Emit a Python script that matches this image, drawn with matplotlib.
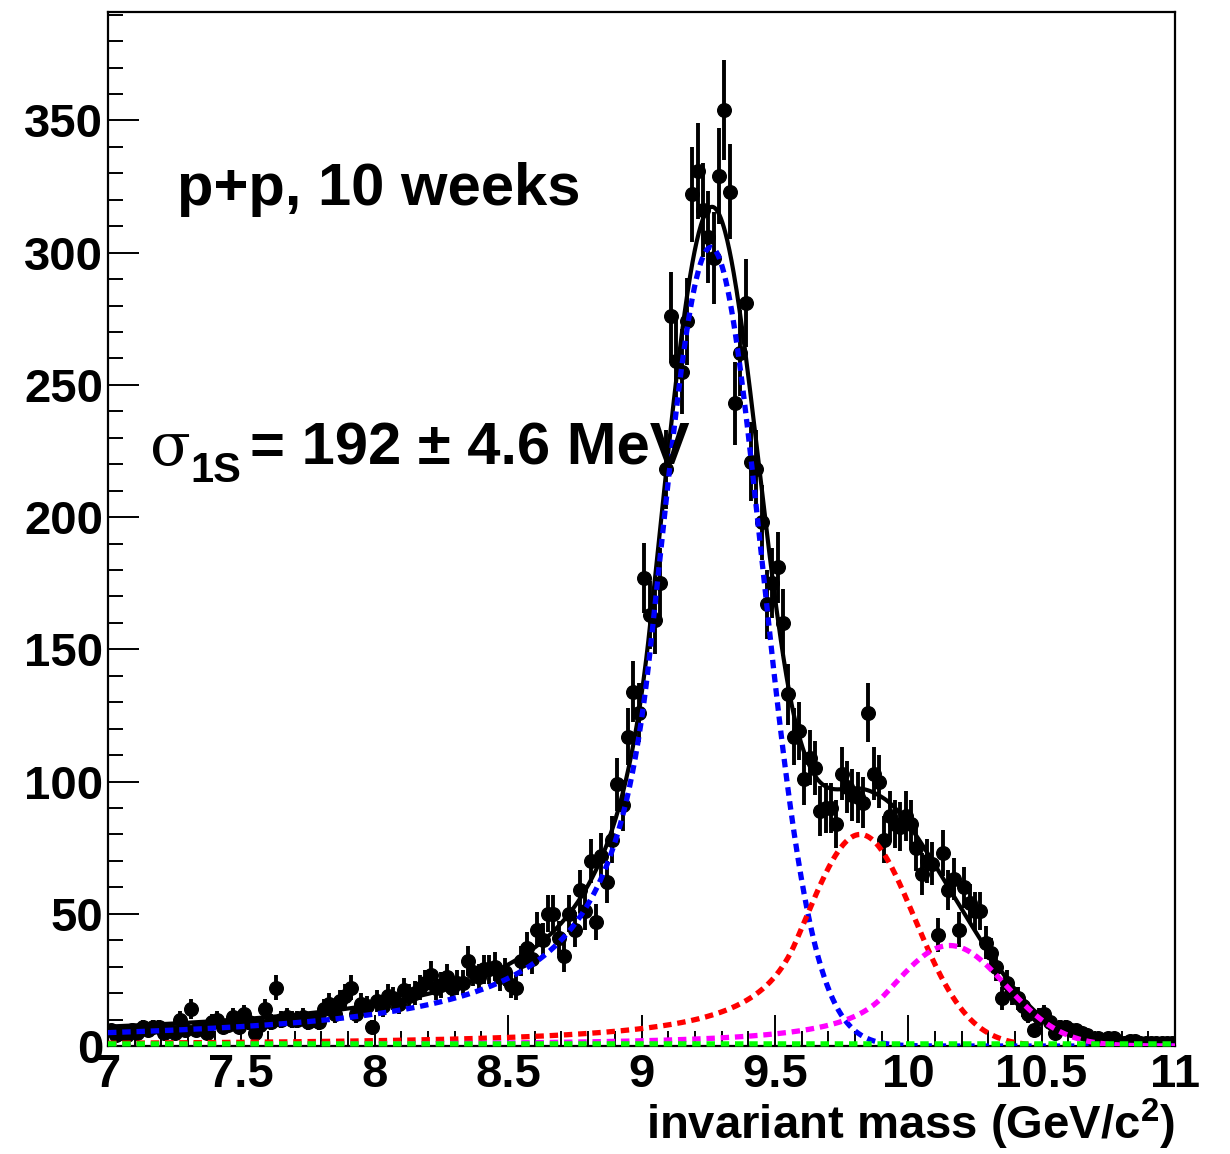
import numpy as np
import matplotlib
matplotlib.use("Agg")
import matplotlib.pyplot as plt
from matplotlib.ticker import MultipleLocator, FuncFormatter

# ---------------- data ----------------
bin_lo, bin_hi, n_bins = 7.0, 11.0, 200
counts = [
    6, 4, 5, 4, 6, 5, 7, 6, 7, 7, 5, 6, 5, 10, 6, 14, 6, 7, 5, 9, 10, 7, 8, 11, 7,
    12, 9, 5, 8, 14, 9, 22, 10, 11, 10, 10,
    11, 9, 10, 9, 14, 16, 12, 17, 19, 22, 12, 16, 15, 7, 17, 15, 19, 18, 16, 21,
    19, 20, 22, 24, 27, 22, 23, 26, 22, 24, 24, 32, 28, 26, 29, 29, 30, 26, 28,
    23, 22, 32, 37, 33,
    44, 40, 50, 50, 41, 34, 50, 44, 59, 51, 70, 47, 72, 62, 78, 99, 91, 117, 134, 126,
    177, 163, 161, 175, 218, 276, 259, 255, 274, 322, 331, 316, 306, 298, 329, 354,
    323, 243, 262, 281,
    221, 218, 198, 167, 175, 181, 160, 133, 117, 119, 101, 109, 105, 89, 90, 90, 84,
    103, 98, 95,
    94, 92, 126, 103, 100, 78, 87, 84, 83, 87, 84, 75, 65, 70, 69, 42, 73, 59, 63, 44,
    60, 54, 51, 51, 39, 35, 30, 18, 24, 20,
    18, 15, 12, 6, 11, 12, 9, 5, 7, 7, 6, 6, 5, 4, 2, 3, 2, 3, 3, 1, 1, 2, 2, 1, 1,
    1, 1, 1, 1, 1,
]

# fit components (crystal-ball shapes): 1S, 2S, 3S
peak_names = ["1S", "2S", "3S"]
peak_mu = [9.26, 9.82, 10.155]
peak_sigma = [0.192, 0.203, 0.210]
peak_amp = [302.0, 80.0, 38.0]
cb_alpha = 1.2
cb_n = 1.5
background_level = 0.8

x_ticks_major = 0.5
y_ticks_major = 50


def crystal_ball(x, amp, mu, sig, alpha, n):
    t = (x - mu) / sig
    A = (n / abs(alpha)) ** n * np.exp(-alpha ** 2 / 2)
    B = n / abs(alpha) - abs(alpha)
    out = np.where(t > -alpha, np.exp(-t ** 2 / 2),
                   A * np.abs(B - t) ** (-n))
    return amp * out


# ---------------- figure ----------------
W, H = 1230, 1154
fig = plt.figure(figsize=(W / 100, H / 100), dpi=100)
L, R, T, B = 108, 1175, 12, 1046
ax = fig.add_axes([L / W, 1 - B / H, (R - L) / W, (B - T) / H])

edges = np.linspace(bin_lo, bin_hi, n_bins + 1)
mass = 0.5 * (edges[:-1] + edges[1:])
y = np.array(counts, dtype=float)
err = np.sqrt(y)

ax.errorbar(mass, y, yerr=err, fmt="o", color="black", ms=9.8,
            elinewidth=2.8, capsize=0, zorder=3)

xs = np.linspace(bin_lo, bin_hi, 1500)
comps = [crystal_ball(xs, a, m, s, cb_alpha, cb_n)
         for a, m, s in zip(peak_amp, peak_mu, peak_sigma)]
bkg = np.full_like(xs, background_level)
total = comps[0] + comps[1] + comps[2] + bkg

ax.plot(xs, total, color="black", lw=3.0, zorder=4)
dash = (0, (1.6, 1.1))
ax.plot(xs, comps[0], color="#0000ff", lw=3.8, ls=dash, zorder=5)
ax.plot(xs, comps[1], color="#ff0000", lw=3.8, ls=dash, zorder=5)
ax.plot(xs, comps[2], color="#ff00ff", lw=3.8, ls=dash, zorder=5)
ax.plot(xs, bkg, color="#00ff00", lw=3.8, ls=dash, zorder=6, clip_on=False)

ax.set_xlim(bin_lo, bin_hi)
ax.set_ylim(0, 391)

for s in ax.spines.values():
    s.set_linewidth(1.6)
    s.set_color("black")

ax.xaxis.set_major_locator(MultipleLocator(x_ticks_major))
ax.xaxis.set_minor_locator(MultipleLocator(0.1))
ax.yaxis.set_major_locator(MultipleLocator(y_ticks_major))
ax.yaxis.set_minor_locator(MultipleLocator(10))
ax.xaxis.set_major_formatter(FuncFormatter(lambda v, p: f"{v:g}"))
ax.yaxis.set_major_formatter(FuncFormatter(lambda v, p: f"{v:g}"))
ax.tick_params(which="both", direction="in", top=False, right=False, width=1.4)
ax.tick_params(which="major", length=22)
ax.tick_params(which="minor", length=11)
ax.tick_params(axis="y", pad=3.5)
ax.tick_params(axis="x", pad=5)
for lab in ax.get_xticklabels() + ax.get_yticklabels():
    lab.set_fontfamily("Liberation Sans")
    lab.set_fontweight("bold")
    lab.set_fontsize(34)

plt.rcParams["mathtext.fontset"] = "custom"
plt.rcParams["mathtext.rm"] = "Liberation Sans:bold"
plt.rcParams["mathtext.bf"] = "Liberation Sans:bold"
plt.rcParams["mathtext.it"] = "Liberation Sans:bold"
plt.rcParams["mathtext.default"] = "rm"


def fx(px):
    return px / W


def fy(py):
    return 1 - py / H


bold = dict(family="Liberation Sans", weight="bold")
fig.text(fx(1175), fy(1139), "invariant mass (GeV/c$^{2}$)", ha="right",
         va="baseline", fontsize=34, **bold)
fig.text(fx(177), fy(205), "p+p, 10 weeks", ha="left", va="baseline",
         fontsize=43, **bold)
fig.text(fx(150), fy(465), "\u03c3", ha="left", va="baseline", fontsize=43,
         family="DejaVu Serif")
fig.text(fx(190), fy(482), "1S", ha="left", va="baseline", fontsize=30, **bold)
fig.text(fx(250), fy(465), "= 192 \u00b1 4.6 MeV", ha="left", va="baseline",
         fontsize=43, **bold)

fig.savefig("out.png", dpi=100)
